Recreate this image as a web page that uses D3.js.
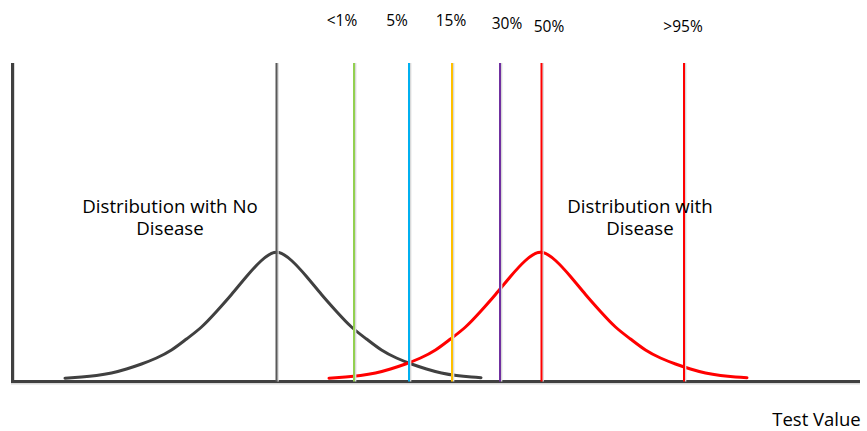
<!DOCTYPE html>
<html>
<head>
<meta charset="utf-8">
<script src="https://cdn.jsdelivr.net/npm/d3@7"></script>
<style>
  html, body { margin: 0; padding: 0; background: #ffffff; }
  svg { display: block; }
  text { font-family: "Open Sans", "Noto Sans", sans-serif; fill: #000; }
</style>
</head>
<body>
<svg id="chart" width="867" height="431"></svg>
<script>
// ---------------- DATA ----------------
// Curve points: [test value, density]
const noDiseaseX = [53, 69.5, 84.5, 99.5, 114.5, 129.5, 144.5, 159.5, 174.5, 189.5, 204.5, 219.5, 234.5, 249.5, 264.5,
                    279.5, 294.5, 309.5, 324.5, 339.5, 354.5, 369.5, 384.5, 399.5, 414.5, 429.5, 444.5, 459.5, 469];
const noDiseaseY = [3.3, 4.5, 6, 8.5, 12.5, 17.5, 23.5, 31.5, 42.5, 54.5, 70, 87, 105, 121, 129.2,
                    121, 105, 87, 70, 54.5, 42.5, 31.5, 23.5, 17.5, 12.5, 8.5, 6, 4.5, 3.8];
const diseaseX = [317, 333.5, 348.5, 363.5, 378.5, 393.5, 408.5, 423.5, 438.5, 453.5, 468.5, 483.5, 498.5, 513.5, 528.5,
                  543.5, 558.5, 573.5, 588.5, 603.5, 618.5, 633.5, 648.5, 663.5, 678.5, 693.5, 708.5, 723.5, 735];
const diseaseY = [3.3, 4.5, 6, 8.5, 12.5, 17.5, 23.5, 31.5, 42.5, 54.5, 70, 87, 105, 121, 129.2,
                  121, 105, 87, 70, 54.5, 42.5, 31.5, 23.5, 17.5, 12.5, 8.5, 6, 4.5, 3.8];
// Mean of the no-disease distribution
const noDiseaseMean = 264.5;
// Cut-off lines
const cutoffLabels = ["<1%", "5%", "15%", "30%", "50%", ">95%"];
const cutoffValues = [342, 397, 440, 488, 529.5, 672];
// Annotation texts
const noDiseaseLabel = ["Distribution with No", "Disease"];
const diseaseLabel = ["Distribution with", "Disease"];
const xAxisTitle = "Test Value";

// ---------------- LAYOUT / STYLE ----------------
const cutoffColors = ["#92d050", "#00b0f0", "#ffc000", "#7030a0", "#ff0000", "#ff0000"];
const labelDx = [-12, -12, -1, 7, 7.5, -1];
const labelBaseline = [26, 26, 26, 29, 31.5, 31.5];
const axisColor = "#404040";
const shadowColor = "#d9d9d9";

const svg = d3.select("#chart");
const x = d3.scaleLinear().domain([0, 850]).range([12, 862]);
const y = d3.scaleLinear().domain([0, 320]).range([381.5, 61.5]);
const yTop = 318.5;

// Axes (with soft shadow)
const gAxis = svg.append("g");
gAxis.append("line").attr("x1", x(0) + 2).attr("x2", x(0) + 2).attr("y1", y(yTop)).attr("y2", y(0))
  .attr("stroke", shadowColor).attr("stroke-width", 2);
gAxis.append("line").attr("x1", x(-1)).attr("x2", x(848)).attr("y1", y(0) + 2).attr("y2", y(0) + 2)
  .attr("stroke", shadowColor).attr("stroke-width", 2);
gAxis.append("line").attr("x1", x(0.5)).attr("x2", x(0.5)).attr("y1", y(yTop)).attr("y2", y(0))
  .attr("stroke", axisColor).attr("stroke-width", 3);
gAxis.append("line").attr("x1", x(-1)).attr("x2", x(848)).attr("y1", y(0)).attr("y2", y(0))
  .attr("stroke", axisColor).attr("stroke-width", 3);

// Curves
const line = d3.line().x(d => x(d[0])).y(d => y(d[1])).curve(d3.curveNatural);
svg.append("path").datum(d3.zip(noDiseaseX, noDiseaseY))
  .attr("d", line).attr("fill", "none").attr("stroke", axisColor).attr("stroke-width", 3)
  .attr("stroke-linecap", "round");
svg.append("path").datum(d3.zip(diseaseX, diseaseY))
  .attr("d", line).attr("fill", "none").attr("stroke", "#ff0000").attr("stroke-width", 3)
  .attr("stroke-linecap", "round");

// Mean line of no-disease
svg.append("line").attr("x1", x(noDiseaseMean) + 1.5).attr("x2", x(noDiseaseMean) + 1.5)
  .attr("y1", y(yTop)).attr("y2", y(0)).attr("stroke", shadowColor).attr("stroke-width", 1.5);
svg.append("line").attr("x1", x(noDiseaseMean)).attr("x2", x(noDiseaseMean))
  .attr("y1", y(yTop)).attr("y2", y(0)).attr("stroke", "#595959").attr("stroke-width", 2);

// Cut-off lines
const cut = svg.append("g").selectAll("g").data(cutoffValues).join("g");
cut.append("line").attr("x1", d => x(d) + 1.6).attr("x2", d => x(d) + 1.6)
  .attr("y1", y(yTop)).attr("y2", y(0)).attr("stroke", shadowColor).attr("stroke-width", 1.5);
cut.append("line").attr("x1", d => x(d)).attr("x2", d => x(d))
  .attr("y1", y(yTop)).attr("y2", y(0))
  .attr("stroke", (d, i) => cutoffColors[i]).attr("stroke-width", 2);

// Cut-off labels
svg.append("g").selectAll("text").data(cutoffLabels).join("text")
  .attr("x", (d, i) => x(cutoffValues[i]) + labelDx[i])
  .attr("y", (d, i) => labelBaseline[i])
  .attr("text-anchor", "middle").attr("font-size", 15.5)
  .text(d => d);

// Distribution annotations
function multiline(lines, cx, baseline) {
  const t = svg.append("text").attr("text-anchor", "middle").attr("font-size", 18.7);
  lines.forEach((s, i) => t.append("tspan").attr("x", cx).attr("y", baseline + i * 22.5).text(s));
}
multiline(noDiseaseLabel, 170, 212.5);
multiline(diseaseLabel, 640, 212.5);

// Axis title
svg.append("text").attr("x", 816.5).attr("y", 426).attr("text-anchor", "middle")
  .attr("font-size", 18.5).text(xAxisTitle);
</script>
</body>
</html>
